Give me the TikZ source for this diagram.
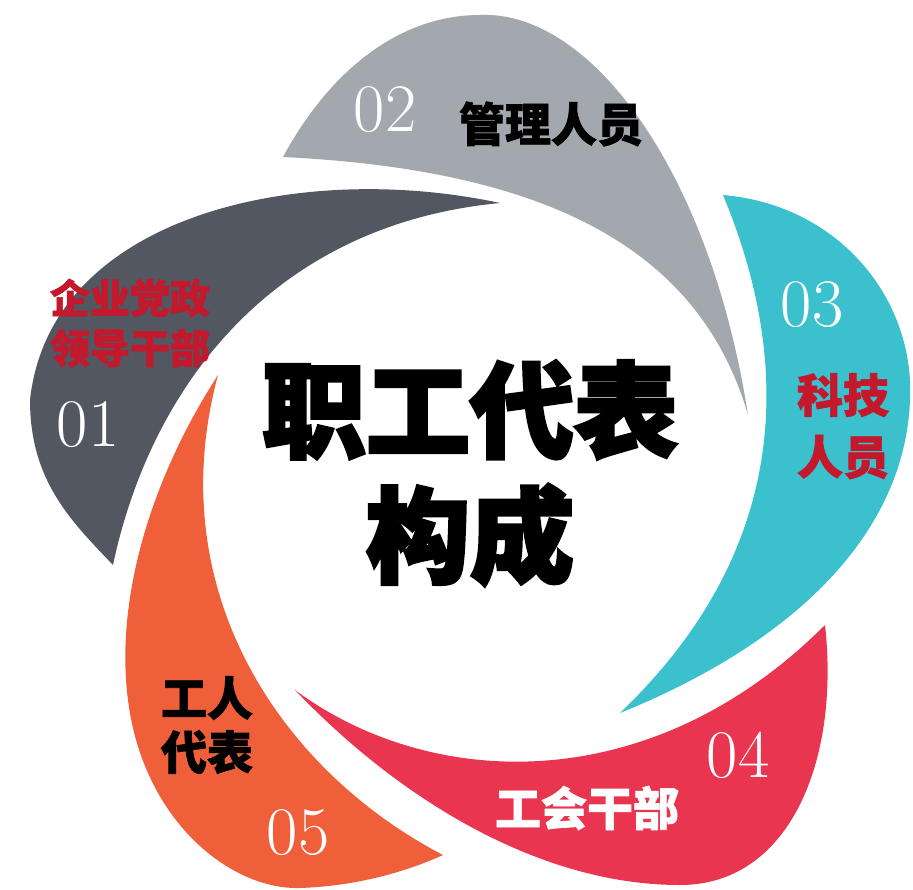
\documentclass[tikz,border=0pt]{standalone}
\usepackage{fontspec}
\newfontfamily\cjk{Noto Sans CJK SC}[BoldFeatures={FakeBold=1.5}]
\newfontfamily\cjkheavy{Noto Sans CJK SC}[BoldFeatures={FakeBold=3}]
\definecolor{pdark}{HTML}{525761}
\definecolor{plight}{HTML}{A3A7AE}
\definecolor{pteal}{HTML}{3BC0CE}
\definecolor{pred}{HTML}{E93550}
\definecolor{porange}{HTML}{EF5F3A}
\definecolor{tred}{HTML}{C4182C}
\tikzset{
  num/.style={text=white, inner sep=0pt, font=\fontsize{68}{68}\selectfont},
  lab/.style={inner sep=0pt, font=\cjk\bfseries\fontsize{46}{46}\selectfont},
  title/.style={inner sep=0pt, text=black, font=\cjkheavy\bfseries\fontsize{104}{104}\selectfont}
}
\begin{document}
\begin{tikzpicture}[x=1pt,y=-1pt]
\useasboundingbox[fill=white] (0,0) rectangle (913,889);
% petal 01
\fill[pdark] (500,203) .. controls (300,160) and (50,215) .. (30,400)
  .. controls (30,480) and (70,520) .. (113,565)
  .. controls (150,390) and (270,225) .. cycle;
% petal 02
\fill[plight] (283,157) .. controls (330,70) and (400,15) .. (480,15)
  .. controls (590,10) and (710,170) .. (748,415)
  .. controls (700,250) and (550,170) .. cycle;
% petal 03
\fill[pteal] (723,195) .. controls (840,205) and (915,300) .. (910,400)
  .. controls (905,530) and (800,640) .. (620,713)
  .. controls (780,560) and (800,380) .. cycle;
% petal 04
\fill[pred] (825,625) .. controls (840,760) and (790,885) .. (680,885)
  .. controls (540,885) and (400,800) .. (295,690)
  .. controls (430,790) and (650,800) .. cycle;
% petal 05
\fill[porange] (218,375) .. controls (150,480) and (115,600) .. (128,700)
  .. controls (143,820) and (230,890) .. (300,888)
  .. controls (360,886) and (410,870) .. (443,855)
  .. controls (280,770) and (160,590) .. cycle;
% texts
\node[num] (n1) at (88,425) {01};
\node[num] (n2) at (385,110) {02};
\node[num] (n3) at (812,305) {03};
\node[num] (n4) at (738,755) {04};
\node[num] (n5) at (298,833) {05};
\node[lab,text=tred,font=\cjk\bfseries\fontsize{40}{40}\selectfont] (l1a) at (130,298) {企业党政};
\node[lab,text=tred,font=\cjk\bfseries\fontsize{40}{40}\selectfont] (l1b) at (130,348) {领导干部};
\node[lab,text=black] (l2) at (551,124) {管理人员};
\node[lab,text=tred] (l3a) at (843,395) {科技};
\node[lab,text=tred] (l3b) at (843,457) {人员};
\node[lab,text=white] (l4) at (587,808) {工会干部};
\node[lab,text=black] (l5a) at (207,698) {工人};
\node[lab,text=black] (l5b) at (207,752) {代表};
\node[title] (t1) at (470,410) {职工代表};
\node[title] (t2) at (470,535) {构成};
\end{tikzpicture}
\end{document}
